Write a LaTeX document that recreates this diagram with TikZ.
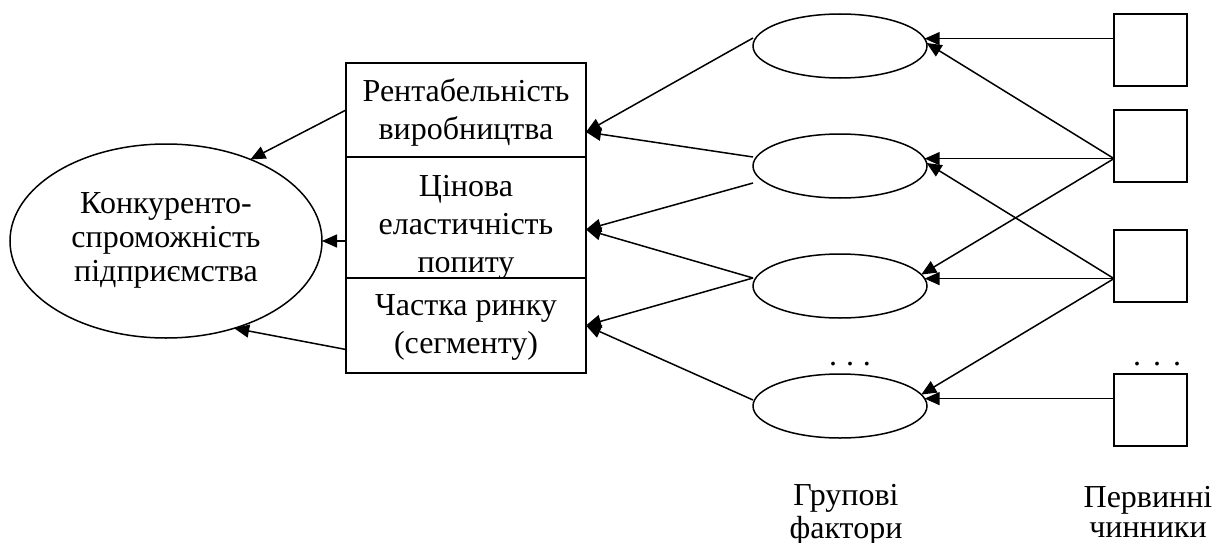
\documentclass[tikz,border=0pt]{standalone}
\usepackage{fontspec}
\setmainfont{Liberation Serif}
\usetikzlibrary{arrows.meta,shapes.geometric}
\begin{document}
\begin{tikzpicture}[x=1pt,y=-1pt,
  every node/.style={inner sep=0pt, outer sep=0pt},
  arr/.style={line width=1.5pt, -{Triangle[length=15pt,width=13pt]}},
  card/.style={draw, line width=1.6pt, rectangle, minimum width=240pt},
  oval/.style={draw, line width=1.5pt, ellipse, minimum width=174pt, minimum height=64pt},
  cell/.style={draw, line width=1.6pt, rectangle, minimum width=73pt, minimum height=72pt},
  txt/.style={align=center, font=\fontsize{32}{38}\selectfont},
]
\useasboundingbox (0,0) rectangle (1220,543);

% result: competitiveness of the enterprise
\node[draw, ellipse, line width=1.5pt, minimum width=312pt, minimum height=194pt,
      align=center, font=\fontsize{32}{34}\selectfont] (firm) at (166,241)
  {\strut Конкуренто-\\\strut спроможність\\\strut підприємства};

% indicator boxes
\node[card, minimum height=94pt]  (b1) at (466,110)   {};
\node[card, minimum height=121pt] (b2) at (466,217.5) {};
\node[card, minimum height=95pt]  (b3) at (466,325.5) {};
\node[txt] (t1) at ([yshift=-3pt]b1.center)  {\strut Рентабельність\\\strut виробництва};
\node[txt] (t2) at ([yshift=-9pt]b2.center)  {\strut Цінова\\\strut еластичність\\\strut попиту};
\node[txt] (t3) at ([yshift=-1pt]b3.center)  {\strut Частка ринку\\\strut (сегменту)};

% group factors
\node[oval] (e1) at (840,46)  {};
\node[oval] (e2) at (840,166) {};
\node[oval] (e3) at (840,286) {};
\node[oval] (e4) at (840,406) {};

% primary factors
\node[cell] (s1) at (1150.5,50)  {};
\node[cell] (s2) at (1150.5,146) {};
\node[cell] (s3) at (1150.5,266) {};
\node[cell] (s4) at (1150.5,410) {};

% ellipsis marks
\node[font=\fontsize{32}{38}\selectfont, anchor=base] (d1) at (850,365)  {.\hspace{9pt}.\hspace{9pt}.};
\node[font=\fontsize{32}{38}\selectfont, anchor=base] (d2) at (1157,365) {.\hspace{12pt}.\hspace{12pt}.};

% column captions
\node[align=center, font=\fontsize{32}{30}\selectfont] (cg) at (846,516) {\strut Групові\\\strut фактори};
\node[align=center, font=\fontsize{32}{30}\selectfont] (cp) at (1148,516) {\strut Первинні\\\strut чинники};

% primary -> group
\draw[arr] (s1.west |- e1.5) -- (e1.5);
\draw[arr] (s2.west |- e2.5) -- (e2.5);
\draw[arr] (s3.west |- e3.5) -- (e3.5);
\draw[arr] (s4.west |- e4.5) -- (e4.5);
\draw[arr] (s2.west |- e2.5) -- (e1.2);
\draw[arr] (s2.west |- e2.5) -- (e3.8);
\draw[arr] (s3.west |- e3.5) -- (e2.2);
\draw[arr] (s3.west |- e3.5) -- (e4.8);

% group -> indicators
\draw[arr] ([yshift=8pt]e1.west)   -- ([yshift=-22pt]b1.east);
\draw[arr] ([yshift=9pt]e2.west)   -- ([yshift=-22pt]b1.east);
\draw[arr] ([yshift=-17pt]e2.west) -- ([yshift=-12pt]b2.east);
\draw[arr] ([yshift=8pt]e3.west)   -- ([yshift=-12pt]b2.east);
\draw[arr] ([yshift=8pt]e3.west)   -- (b3.east);
\draw[arr] ([yshift=6pt]e4.west)   -- (b3.east);

% indicators -> competitiveness
\draw[arr] (b1.west) -- (firm.44);
\draw[arr] (b2.west |- firm.east) -- (firm.east);
\draw[arr] ([yshift=-24pt]b3.west) -- (firm.-52);
\end{tikzpicture}
\end{document}
